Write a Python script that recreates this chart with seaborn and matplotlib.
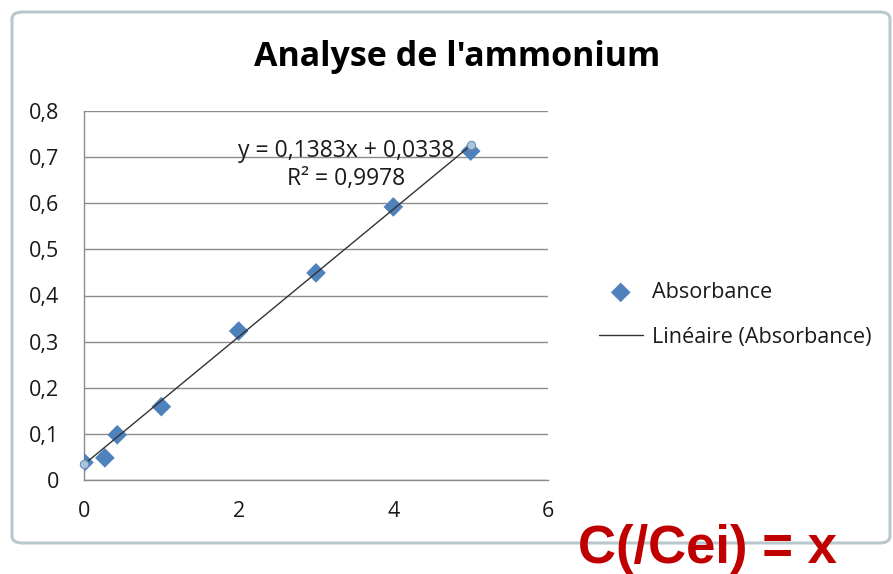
import numpy as np
import pandas as pd
import matplotlib.pyplot as plt
import seaborn as sns
from matplotlib.patches import FancyBboxPatch

sns.set_style("white")
plt.rcParams['font.family'] = ['Open Sans', 'DejaVu Sans']

# Data
concentration = [0, 0.27, 0.43, 1.0, 2.0, 3.0, 4.0, 5.0]
absorbance = [0.038, 0.048, 0.098, 0.159, 0.323, 0.449, 0.592, 0.713]
slope = 0.1383
intercept = 0.0338
r2 = 0.9978
x_ticks = [0, 2, 4, 6]
y_ticks = [0, 0.1, 0.2, 0.3, 0.4, 0.5, 0.6, 0.7, 0.8]

df = pd.DataFrame({'x': concentration, 'Absorbance': absorbance})
trend = pd.DataFrame({'x': [min(concentration), max(concentration)]})
trend['y'] = slope * trend['x'] + intercept

grey = '#8c8c8c'
blue = '#4F81BD'
txt = '#1a1a1a'

fig = plt.figure(figsize=(8.93, 5.74), dpi=100)

# chart area border
border = FancyBboxPatch((12 / 893, 1 - 543 / 574), 878 / 893, 531 / 574,
                        boxstyle="round,pad=0,rounding_size=0.012",
                        transform=fig.transFigure, fc='white',
                        ec='#b8c8cc', lw=2.2, zorder=0)
fig.patches.append(border)

ax = fig.add_axes([84 / 893, 1 - 480 / 574, 464 / 893, 369 / 574])
ax.set_zorder(2)
ax.set_facecolor('none')

sns.scatterplot(data=df, x='x', y='Absorbance', marker='D', s=100,
                color=blue, edgecolor='none', ax=ax, zorder=3,
                label='Absorbance')
sns.lineplot(data=trend, x='x', y='y', color='#333333', lw=1.0, ax=ax,
             zorder=4, label='Linéaire (Absorbance)')
ax.plot(trend['x'], trend['y'], ls='none', marker='o', ms=6,
        mfc='#a9c6e0', mec='#6f8faf', mew=0.8, zorder=5, clip_on=False)

ax.set_xlim(0, 6)
ax.set_ylim(0, 0.8)
ax.set_xticks(x_ticks)
ax.set_yticks(y_ticks)
ax.set_xticklabels([str(t) for t in x_ticks])
ax.set_yticklabels(['0'] + [f"{t:.1f}".replace('.', ',') for t in y_ticks[1:]])
ax.set_xlabel('')
ax.set_ylabel('')
ax.yaxis.grid(True, color=grey, lw=1.0)
ax.set_axisbelow(True)
for s in ['top', 'right']:
    ax.spines[s].set_visible(False)
for s in ['left', 'bottom']:
    ax.spines[s].set_color(grey)
    ax.spines[s].set_linewidth(1.0)
ax.tick_params(axis='both', direction='out', length=6, width=1.0,
               color=grey, labelsize=15.5, labelcolor=txt)
ax.tick_params(axis='x', pad=9)
ax.tick_params(axis='y', pad=12)

eq = f"y = {slope:.4f}x + {intercept:.4f}".replace('.', ',')
r2_txt = f"R² = {r2:.4f}".replace('.', ',')
ax.text(3.39, 0.714, eq, ha='center', va='center', fontsize=16.5, color=txt)
ax.text(3.39, 0.652, r2_txt, ha='center', va='center', fontsize=16.5, color=txt)

fig.text(457 / 893, 1 - 57 / 574, "Analyse de l'ammonium", ha='center',
         va='center', fontsize=24.5, fontweight='bold', color='black')

handles, labels = ax.get_legend_handles_labels()
ax.legend(handles, labels, loc='center left', frameon=False,
          bbox_to_anchor=(579 / 893, 1 - 315 / 574),
          bbox_transform=fig.transFigure, fontsize=15.6, handlelength=2.05,
          handletextpad=0.4, labelspacing=1.1, labelcolor=txt)

t = fig.text(707 / 893, 1 - 549 / 574, "C(/Cei) = x", ha='center', va='center',
             fontsize=38, fontweight='bold', color='#C00000',
             family=['Liberation Sans', 'DejaVu Sans'])
t.set_zorder(5)

fig.savefig('out.png', dpi=100)
